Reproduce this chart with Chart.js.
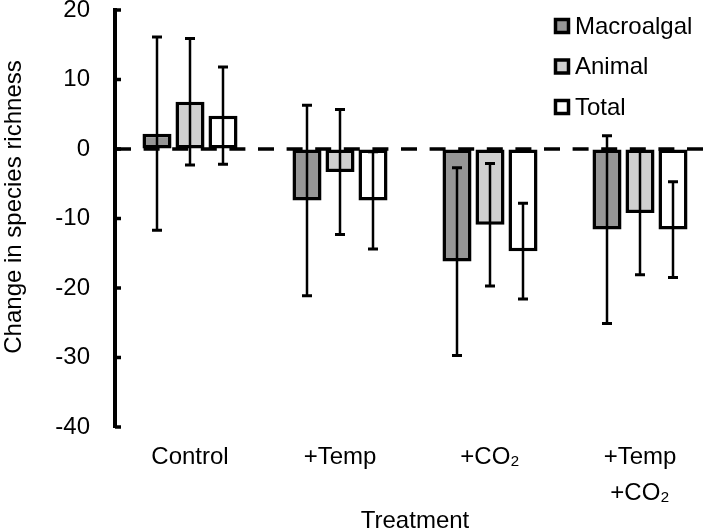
<!DOCTYPE html>
<html>
<head>
<meta charset="utf-8">
<script src="https://cdn.jsdelivr.net/npm/chart.js@4"></script>
<style>
  html, body { margin: 0; padding: 0; background: #fff; overflow: hidden; }
  #wrap { width: 715px; height: 530px; }
</style>
</head>
<body>
<div id="wrap"><canvas id="chart" width="715" height="530"></canvas></div>
<script>
const treatments = ['Control', '+Temp', '+CO₂', ['+Temp', '+CO₂']];
const seriesNames = ['Macroalgal', 'Animal', 'Total'];
const macroalgal = [2.2, -7.4, -16.2, -11.6];
const animal = [6.8, -3.3, -10.9, -9.2];
const total = [4.8, -7.4, -14.7, -11.6];
const macroalgalErr = [13.9, 13.7, 13.5, 13.5];
const animalErr = [9.1, 9.0, 8.8, 8.9];
const totalErr = [7.0, 7.0, 6.9, 6.9];
const yTicks = [20, 10, 0, -10, -20, -30, -40];
const yTitle = 'Change in species richness';

const FONT = "'Liberation Sans', Arial, sans-serif";
const fills = ['#969696', '#d0d0d0', '#ffffff'];

// dashed line at zero, behind the bars
const zeroLine = {
    id: 'zeroLine',
    beforeDatasetsDraw(chart) {
        const { ctx, chartArea, scales } = chart;
        const y0 = scales.y.getPixelForValue(0);
        ctx.save();
        ctx.strokeStyle = '#000';
        ctx.lineWidth = 3.5;
        ctx.setLineDash([16, 12.6]);
        ctx.beginPath();
        ctx.moveTo(chartArea.left, y0);
        ctx.lineTo(chartArea.right, y0);
        ctx.stroke();
        ctx.restore();
    }
};

// error bars drawn over the bars
const errorBars = {
    id: 'errorBars',
    afterDatasetsDraw(chart) {
        const { ctx, scales } = chart;
        ctx.save();
        ctx.strokeStyle = '#000';
        chart.data.datasets.forEach((ds, i) => {
            chart.getDatasetMeta(i).data.forEach((bar, j) => {
                const v = ds.data[j], e = ds.errors[j];
                const yt = scales.y.getPixelForValue(v + e);
                const yb = scales.y.getPixelForValue(v - e);
                ctx.lineWidth = 2.5;
                ctx.beginPath();
                ctx.moveTo(bar.x, yt);
                ctx.lineTo(bar.x, yb);
                ctx.stroke();
                ctx.lineWidth = 3;
                ctx.beginPath();
                ctx.moveTo(bar.x - 5, yt);
                ctx.lineTo(bar.x + 5, yt);
                ctx.moveTo(bar.x - 5, yb);
                ctx.lineTo(bar.x + 5, yb);
                ctx.stroke();
            });
        });
        ctx.restore();
    }
};

// inward tick marks, y title and legend
const extras = {
    id: 'extras',
    afterDraw(chart) {
        const { ctx, scales, chartArea } = chart;
        ctx.save();
        ctx.strokeStyle = '#000';
        ctx.lineWidth = 3.5;
        yTicks.forEach(v => {
            const y = scales.y.getPixelForValue(v);
            ctx.beginPath();
            ctx.moveTo(chartArea.left, y);
            ctx.lineTo(chartArea.left + 6, y);
            ctx.stroke();
        });

        ctx.font = '24px ' + FONT;
        ctx.fillStyle = '#000';
        ctx.save();
        ctx.translate(14, 207);
        ctx.rotate(-Math.PI / 2);
        ctx.textAlign = 'center';
        ctx.textBaseline = 'middle';
        ctx.fillText(yTitle, 0, 0);
        ctx.restore();

        ctx.textBaseline = 'middle';
        ctx.textAlign = 'left';
        chart.data.datasets.forEach((ds, i) => {
            const yc = 26 + 40.5 * i;
            ctx.fillStyle = ds.backgroundColor;
            ctx.fillRect(555.5, yc - 6.5, 13, 13);
            ctx.lineWidth = 3.5;
            ctx.strokeRect(555.5, yc - 6.5, 13, 13);
            ctx.fillStyle = '#000';
            ctx.fillText(ds.label, 575, yc + 1);
        });
        ctx.restore();
    }
};

const series = [macroalgal, animal, total];
const errs = [macroalgalErr, animalErr, totalErr];

new Chart(document.getElementById('chart'), {
    type: 'bar',
    data: {
        labels: treatments,
        datasets: seriesNames.map((name, i) => ({
            label: name,
            data: series[i],
            errors: errs[i],
            backgroundColor: fills[i],
            borderColor: '#000',
            borderWidth: 3.5,
            borderSkipped: false,
            categoryPercentage: 0.66,
            barPercentage: 0.88
        }))
    },
    options: {
        responsive: false,
        animation: false,
        layout: { padding: { top: 10, left: 0, right: 0, bottom: 0 } },
        plugins: { legend: { display: false }, tooltip: { enabled: false } },
        scales: {
            x: {
                grid: { display: false, drawTicks: false },
                border: { display: false },
                ticks: {
                    color: '#000',
                    padding: 12,
                    maxRotation: 0,
                    font: { family: FONT, size: 24, lineHeight: 1.5 }
                },
                title: {
                    display: true,
                    text: 'Treatment',
                    color: '#000',
                    font: { family: FONT, size: 24, lineHeight: 1 },
                    padding: { top: 0, bottom: -3 }
                },
                afterFit(s) {
                    s.height = 103;
                    s.paddingLeft = 0;
                    s.paddingRight = 0;
                }
            },
            y: {
                min: -40,
                max: 20,
                afterBuildTicks(s) { s.ticks = yTicks.map(v => ({ value: v })); },
                grid: { drawOnChartArea: false, drawTicks: false },
                border: { display: true, color: '#000', width: 4 },
                ticks: {
                    color: '#000',
                    padding: 25,
                    font: { family: FONT, size: 24 }
                },
                afterFit(s) {
                    s.width = 115;
                    s.paddingTop = 0;
                    s.paddingBottom = 0;
                }
            }
        }
    },
    plugins: [zeroLine, errorBars, extras]
});
</script>
</body>
</html>
